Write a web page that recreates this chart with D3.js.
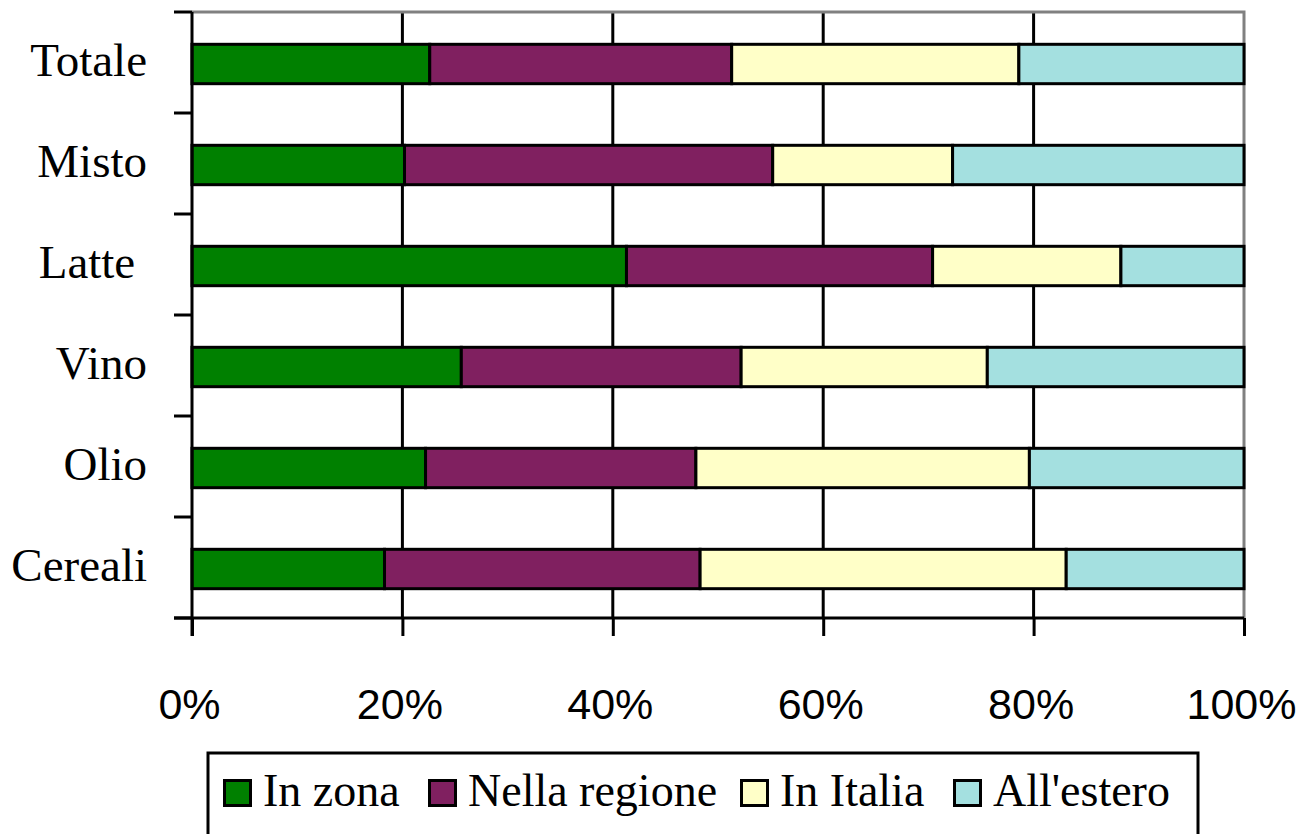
<!DOCTYPE html>
<html>
<head>
<meta charset="utf-8">
<script src="https://cdn.jsdelivr.net/npm/d3@7"></script>
<style>
  body { margin: 0; background: #fff; }
  svg { display: block; }
</style>
</head>
<body>
<div id="chart"></div>
<script>
// categories, top to bottom
const categories = ['Totale', 'Misto', 'Latte ', 'Vino', 'Olio', 'Cereali'];
const seriesNames = ['In zona', 'Nella regione', 'In Italia', "All'estero"];
// percentage shares per category (same order as categories)
const inZona = [22.6, 20.2, 41.3, 25.6, 22.2, 18.3];
const nellaRegione = [28.7, 35.0, 29.1, 26.6, 25.7, 30.0];
const inItalia = [27.3, 17.1, 17.9, 23.4, 31.7, 34.8];
const allEstero = [21.4, 27.7, 11.7, 24.4, 20.4, 16.9];
const tickValues = [0, 0.2, 0.4, 0.6, 0.8, 1];

const colors = ['#008000', '#802060', '#ffffc8', '#a4e0e0'];

const width = 1300;
const height = 834;
const margin = { top: 12, right: 56, bottom: 216, left: 192 };

const rows = categories.map((c, i) => ({
  cat: c,
  'In zona': inZona[i],
  'Nella regione': nellaRegione[i],
  'In Italia': inItalia[i],
  "All'estero": allEstero[i]
}));

// normalise to 100%
const stacked = d3.stack()
  .keys(seriesNames)
  .offset(d3.stackOffsetExpand)(rows);

const svg = d3.select('#chart')
  .append('svg')
  .attr('width', width)
  .attr('height', height);

const x = d3.scaleLinear()
  .domain([0, 1])
  .range([margin.left, width - margin.right]);

const y = d3.scaleBand()
  .domain(categories)
  .range([margin.top, height - margin.bottom])
  .paddingInner(0.61)
  .paddingOuter(0.305);

const bottom = height - margin.bottom;

// vertical gridlines
svg.append('g')
  .selectAll('line')
  .data(tickValues.slice(1, -1))
  .join('line')
  .attr('x1', d => x(d))
  .attr('x2', d => x(d))
  .attr('y1', margin.top)
  .attr('y2', bottom)
  .attr('stroke', '#000')
  .attr('stroke-width', 3);

// plot border, top + right in grey
svg.append('path')
  .attr('d', `M${x(0)},${margin.top}H${x(1)}V${bottom}`)
  .attr('fill', 'none')
  .attr('stroke', '#808080')
  .attr('stroke-width', 3);

// bars
svg.append('g')
  .attr('transform', 'translate(0,1.5)')
  .selectAll('g')
  .data(stacked)
  .join('g')
  .attr('fill', (d, i) => colors[i])
  .selectAll('rect')
  .data(d => d)
  .join('rect')
  .attr('x', d => x(d[0]))
  .attr('y', d => y(d.data.cat))
  .attr('width', d => x(d[1]) - x(d[0]))
  .attr('height', y.bandwidth())
  .attr('stroke', '#000')
  .attr('stroke-width', 3);

// y axis: ticks between categories
const yAxis = svg.append('g');
yAxis.append('line')
  .attr('x1', x(0)).attr('x2', x(0))
  .attr('y1', margin.top).attr('y2', bottom + 18)
  .attr('stroke', '#000').attr('stroke-width', 3);
yAxis.selectAll('line.tick')
  .data(d3.range(categories.length + 1))
  .join('line')
  .attr('class', 'tick')
  .attr('x1', x(0) - 18).attr('x2', x(0))
  .attr('y1', i => margin.top + i * y.step())
  .attr('y2', i => margin.top + i * y.step())
  .attr('stroke', '#000').attr('stroke-width', 3);

yAxis.selectAll('text')
  .data(categories)
  .join('text')
  .attr('x', 147)
  .attr('y', d => y(d) + y.bandwidth() / 2 + 13)
  .attr('text-anchor', 'end')
  .style('white-space', 'pre')
  .attr('font-family', 'Liberation Serif')
  .attr('font-size', 47)
  .text(d => d);

// x axis
const xAxis = svg.append('g')
  .attr('transform', `translate(0,${bottom})`)
  .call(d3.axisBottom(x)
    .tickValues(tickValues)
    .tickFormat(d3.format('.0%'))
    .tickSize(18)
    .tickPadding(52));
xAxis.select('.domain').remove();
xAxis.selectAll('.tick line').attr('stroke-width', 3);
xAxis.append('line')
  .attr('x1', x(0) - 18).attr('x2', x(1))
  .attr('stroke', '#000').attr('stroke-width', 3);
xAxis.selectAll('.tick text')
  .attr('font-family', 'Liberation Sans')
  .attr('font-size', 43)
  .attr('dx', -3)
  .attr('fill', '#000');

// legend
const legendX = [223, 428, 740, 953];
const legend = svg.append('g');
legend.append('rect')
  .attr('x', 208).attr('y', 753)
  .attr('width', 990).attr('height', 120)
  .attr('fill', 'none')
  .attr('stroke', '#000').attr('stroke-width', 3);
const items = legend.selectAll('g.item')
  .data(seriesNames)
  .join('g')
  .attr('class', 'item')
  .attr('transform', (d, i) => `translate(${legendX[i]},779)`);
items.append('rect')
  .attr('x', 1.5).attr('y', 1.5)
  .attr('width', 26).attr('height', 25)
  .attr('fill', (d, i) => colors[i])
  .attr('stroke', '#000').attr('stroke-width', 3);
items.append('text')
  .attr('x', 40)
  .attr('y', 27)
  .attr('font-family', 'Liberation Serif')
  .attr('font-size', 46)
  .text(d => d);
</script>
</body>
</html>
